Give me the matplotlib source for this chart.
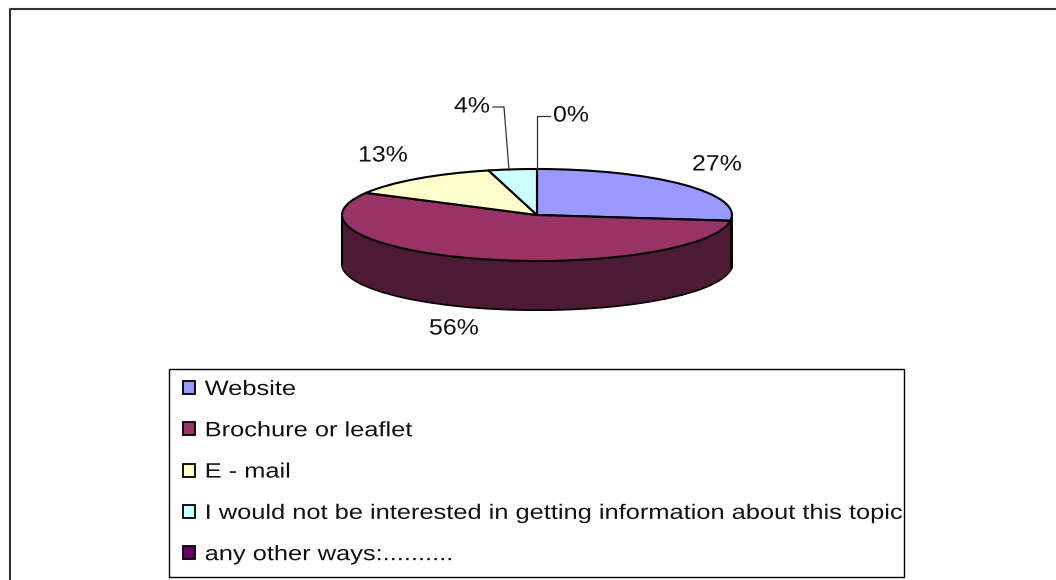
import matplotlib
matplotlib.use("Agg")
import matplotlib.pyplot as plt
from matplotlib.patches import Patch, Rectangle
from matplotlib.patheffects import AbstractPathEffect
from matplotlib.transforms import Affine2D

categories = ["Website", "Brochure or leaflet", "E - mail",
              "I would not be interested in getting information about this topic",
              "any other ways:.........."]
values = [27, 56, 13, 4, 0]
pct_labels = ["27%", "56%", "13%", "4%", "0%"]
top_colors = ["#9999FF", "#993366", "#FFFFCC", "#CCFFFF", "#660066"]
side_colors = ["#4D4D80", "#4D1A33", "#808066", "#668080", "#330033"]


class StretchX(AbstractPathEffect):
    # the reference is a horizontally stretched bitmap, so glyphs get wider too
    def __init__(self, sx):
        super().__init__()
        self.sx = sx

    def draw_path(self, renderer, gc, tpath, affine, rgbFace=None):
        renderer.draw_path(gc, tpath, Affine2D().scale(self.sx, 1) + affine, rgbFace)


W, H = 1056, 580
plt.rcParams["font.family"] = ["Liberation Sans", "DejaVu Sans"]
fig = plt.figure(figsize=(W / 100, H / 100), dpi=100, facecolor="white")

# pie axes: one data unit = pie radius, squashed for the fake 3d look
cx, cy, rx, ry, depth = 537, 215, 195, 46, 49
ax = fig.add_axes([0, 0, 1, 1], facecolor="none")

for d in range(depth, 0, -1):
    wedges, _ = ax.pie(values, colors=side_colors, startangle=90, counterclock=False,
                       center=(0, -d / ry), labeldistance=None)
    for w, c in zip(wedges, side_colors):
        w.set_edgecolor("black" if d == depth else c)
        w.set_linewidth(1.5 if d == depth else 0.5)
ax.pie(values, colors=top_colors, startangle=90, counterclock=False, labeldistance=None,
       wedgeprops=dict(linewidth=1.5, edgecolor="black"))
ax.set_aspect("auto")
ax.set_xlim((0 - cx) / rx, (W - cx) / rx)
ax.set_ylim((cy - H) / ry, cy / ry)
ax.axis("off")

# overlay in pixel coords for frame, labels and legend
px = fig.add_axes([0, 0, 1, 1], facecolor="none")
px.set_xlim(0, W)
px.set_ylim(H, 0)
px.axis("off")

# sides of the cylinder
px.plot([cx - rx, cx - rx], [cy, cy + depth], color="black", lw=1.5)
px.plot([cx + rx - 1, cx + rx - 1], [cy + 3, cy + depth + 3], color="black", lw=2)

# outer chart frame, runs off the bottom and right of the image
px.plot([10, 10, W], [H, 9, 9], color="#333333", lw=1.5)

# percentage labels, x is the left edge of the text
label_xy = [(692, 165), (429, 329), (358, 156), (454, 107), (553, 116)]
for (x, y), s in zip(label_xy, pct_labels):
    px.text(x, y, s, ha="left", va="center", fontsize=16, color="#111111",
            path_effects=[StretchX(1.12)])

# leader lines
px.plot([493, 504, 509], [107, 107, 170], color="#333333", lw=0.9)
px.plot([550, 537, 537], [116, 116, 170], color="#333333", lw=0.9)

# legend
px.add_patch(Rectangle((169, 369), 735, 208, facecolor="white", edgecolor="black", lw=1))
handles = [Patch(facecolor=c, edgecolor="black", linewidth=1.3) for c in top_colors]
leg = px.legend(handles, categories, loc="upper left",
                bbox_to_anchor=(183 / W, 1 - 380 / H), bbox_transform=fig.transFigure,
                fontsize=15, frameon=False,
                handlelength=0.58, handleheight=0.58, handletextpad=0.46,
                borderpad=0, borderaxespad=0, labelspacing=1.07)
for t in leg.get_texts():
    t.set_color("#111111")
    t.set_path_effects([StretchX(1.22)])

fig.savefig("out.png", dpi=100)
